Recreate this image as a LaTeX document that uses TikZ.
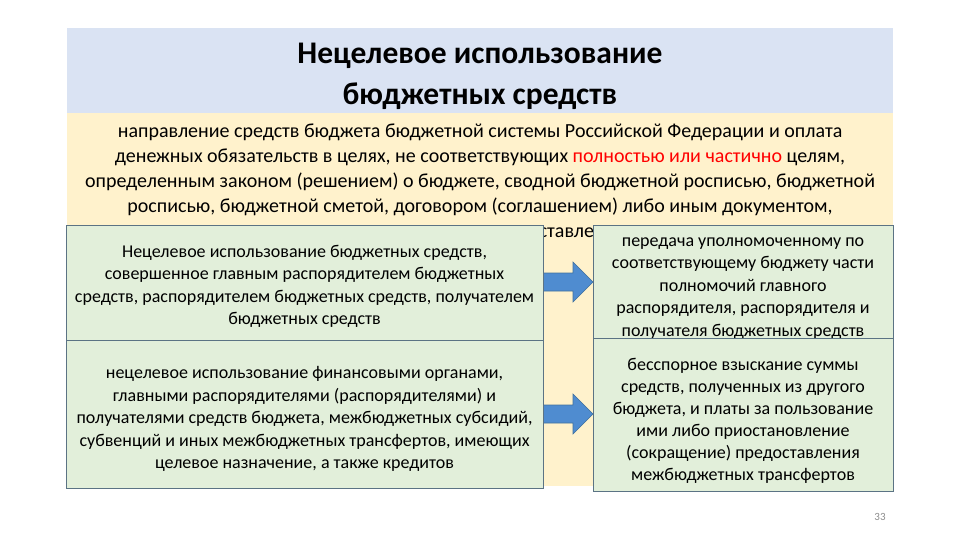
\documentclass[tikz,border=0pt]{standalone}
\usepackage{fontspec}
\setmainfont{Carlito}
\usetikzlibrary{positioning}
\definecolor{hdrblue}{HTML}{DAE3F3}
\definecolor{defyellow}{HTML}{FFF2CC}
\definecolor{boxgreen}{HTML}{E2EFDA}
\definecolor{boxline}{HTML}{5B7384}
\definecolor{arrowfill}{HTML}{4F8CD0}
\definecolor{arrowline}{HTML}{41719C}
\definecolor{pnum}{HTML}{8C8C8C}
\definecolor{hlred}{HTML}{FF0000}
\tikzset{
  band/.style={draw=none, minimum width=826pt, inner sep=0pt, outer sep=0pt},
  greenbox/.style={draw=boxline, line width=0.8pt, fill=boxgreen, align=center, inner sep=0pt, outer sep=0pt},
  blockarrow/.style={fill=arrowfill, draw=arrowline, line width=0.6pt},
  bodytext/.style={align=center, inner sep=0pt, font=\fontsize{18}{22.5}\selectfont}
}
\begin{document}
\begin{tikzpicture}[x=1pt,y=-1pt]
\useasboundingbox (0,0) rectangle (960,540);
% header
\node[band, fill=hdrblue, minimum height=85pt, anchor=north west] (hdr) at (67,28) {};
\node[align=center, inner sep=0pt, font=\bfseries\fontsize{31.5}{41}\selectfont] (title) at (480,76) {Нецелевое использование\\бюджетных средств};
% definition band
\node[band, fill=defyellow, minimum height=373pt, anchor=north west] (def) at (67,113) {};
\node[align=center, inner sep=0pt, anchor=north, font=\fontsize{20}{25}\selectfont] (deftext) at (480,124)
 {направление средств бюджета бюджетной системы Российской Федерации и оплата\\
  денежных обязательств в целях, не соответствующих \textcolor{hlred}{полностью или частично} целям,\\
  определенным законом (решением) о бюджете, сводной бюджетной росписью, бюджетной\\
  росписью, бюджетной сметой, договором (соглашением) либо иным документом,\\
  являющимся правовым основанием предоставления указанных средств};
% arrows (drawn before boxes)
\draw[blockarrow] (543,273) -- (573,273) -- (573,262) -- (593,282) -- (573,302) -- (573,291) -- (543,291) -- cycle;
\draw[blockarrow] (543,405) -- (573,405) -- (573,394) -- (593,414) -- (573,434) -- (573,423) -- (543,423) -- cycle;
% left boxes
\node[greenbox, minimum width=477pt, minimum height=115pt, anchor=north west] (l1) at (66,225) {};
\node[bodytext] (l1t) at ([yshift=-4pt]l1.center) {Нецелевое использование бюджетных средств,\\совершенное главным распорядителем бюджетных\\средств, распорядителем бюджетных средств, получателем\\бюджетных средств};
\node[greenbox, minimum width=477pt, minimum height=148pt, anchor=north west] (l2) at (66,340) {};
\node[bodytext] (l2t) at ([yshift=-5pt]l2.center) {нецелевое использование финансовыми органами,\\главными распорядителями (распорядителями) и\\получателями средств бюджета, межбюджетных субсидий,\\субвенций и иных межбюджетных трансфертов, имеющих\\целевое назначение, а также кредитов};
% right boxes
\node[greenbox, minimum width=300pt, minimum height=113pt, anchor=north west] (r1) at (593,225) {};
\node[bodytext] (r1t) at ([yshift=-7pt]r1.center) {передача уполномоченному по\\соответствующему бюджету части\\полномочий главного\\распорядителя, распорядителя и\\получателя бюджетных средств};
\node[greenbox, minimum width=300pt, minimum height=153pt, anchor=north west] (r2) at (593,338) {};
\node[bodytext, font=\fontsize{18}{22}\selectfont] (r2t) at ([yshift=-6pt]r2.center) {бесспорное взыскание суммы\\средств, полученных из другого\\бюджета, и платы за пользование\\ими либо приостановление\\(сокращение) предоставления\\межбюджетных трансфертов};
% page number
\node[text=pnum, inner sep=0pt, font=\fontsize{11}{13}\selectfont] (pn) at (880,517) {33};
\end{tikzpicture}
\end{document}
